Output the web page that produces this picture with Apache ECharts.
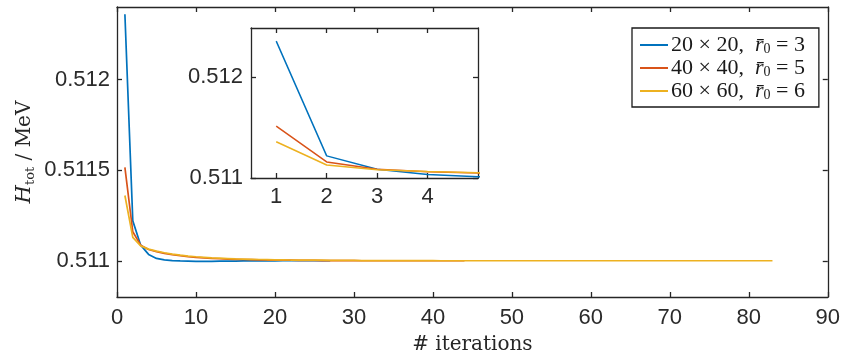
<!DOCTYPE html>
<html>
<head>
<meta charset="utf-8">
<script src="https://cdn.jsdelivr.net/npm/echarts@6/dist/echarts.min.js"></script>
<style>
  html, body { margin: 0; padding: 0; background: #fff; }
  #chart { width: 843px; height: 360px; }
</style>
</head>
<body>
<div id="chart"></div>
<script>
// Total energy H_tot (MeV) per iteration for three lattice set-ups
const gridSizes = ['20 × 20', '40 × 40', '60 × 60'];
const radii = [3, 5, 6];
const colors = ['#0072BD', '#D95319', '#EDB120'];

const energy20 = [
  0.512360, 0.511220, 0.511086, 0.511035, 0.511013, 0.511005, 0.511001, 0.510999, 0.510998, 0.510997,
  0.510997, 0.510997, 0.510998, 0.510998, 0.510998, 0.510999, 0.510999, 0.510999, 0.510999, 0.510999,
  0.511000, 0.511000, 0.511000, 0.511000, 0.511000, 0.511000, 0.511000
];
const energy40 = [
  0.511515, 0.511160, 0.511086, 0.511062, 0.511050, 0.511041, 0.511034, 0.511028, 0.511023, 0.511019,
  0.511016, 0.511013, 0.511011, 0.511009, 0.511008, 0.511007, 0.511006, 0.511005, 0.511004, 0.511004,
  0.511003, 0.511003, 0.511002, 0.511002, 0.511002, 0.511001, 0.511001, 0.511001, 0.511001, 0.511001,
  0.511000, 0.511000, 0.511000, 0.511000, 0.511000, 0.511000, 0.511000, 0.511000, 0.511000, 0.511000,
  0.511000, 0.511000, 0.511000, 0.511000
];
const energy60 = [
  0.511360, 0.511129, 0.511082, 0.511064, 0.511053, 0.511044, 0.511037, 0.511031, 0.511026, 0.511022,
  0.511019, 0.511016, 0.511014, 0.511012, 0.511010, 0.511009, 0.511008, 0.511007, 0.511006, 0.511005,
  0.511005, 0.511004, 0.511004, 0.511003, 0.511003, 0.511003, 0.511002, 0.511002, 0.511002, 0.511002,
  0.511001, 0.511001, 0.511001, 0.511001, 0.511001, 0.511001, 0.511001, 0.511001, 0.511001, 0.511001,
  0.511000, 0.511000, 0.511000, 0.511000, 0.511000, 0.511000, 0.511000, 0.511000, 0.511000, 0.511000,
  0.511000, 0.511000, 0.511000, 0.511000, 0.511000, 0.511000, 0.511000, 0.511000, 0.511000, 0.511000,
  0.511000, 0.511000, 0.511000, 0.511000, 0.511000, 0.511000, 0.511000, 0.511000, 0.511000, 0.511000,
  0.511000, 0.511000, 0.511000, 0.511000, 0.511000, 0.511000, 0.511000, 0.511000, 0.511000, 0.511000,
  0.511000, 0.511000, 0.511000
];
const energies = [energy20, energy40, energy60];

const mainYTicks = [0.511, 0.5115, 0.512];
const mainXTicks = [0, 10, 20, 30, 40, 50, 60, 70, 80, 90];
const insetXTicks = [1, 2, 3, 4];
const insetYTicks = [0.511, 0.512];

const AXIS = '#262626';
const LABEL_FONT = 'Liberation Sans';
const SERIF = 'DejaVu Serif';
const fmt = v => String(+(+v).toFixed(4));

const seriesNames = gridSizes.map((g, i) => g + ', r' + radii[i]);
const toPairs = arr => arr.map((v, i) => [i + 1, v]);

function axisCommon(showLabels, ticks, margin) {
  return {
    axisLine: { show: true, onZero: false, lineStyle: { color: AXIS, width: 1.3 } },
    axisTick: { show: true, inside: true, length: 5, customValues: ticks, lineStyle: { color: AXIS, width: 1.3 } },
    axisLabel: {
      show: showLabels, customValues: ticks, margin: margin, formatter: fmt,
      color: '#2b2b2b', fontFamily: LABEL_FONT, fontSize: 22
    },
    splitLine: { show: false }
  };
}

const series = [];
energies.forEach((arr, i) => {
  series.push({
    name: seriesNames[i], type: 'line', xAxisIndex: 0, yAxisIndex: 0,
    data: toPairs(arr), showSymbol: false, clip: true, z: 2 + i,
    lineStyle: { color: colors[i], width: 1.7 }, itemStyle: { color: colors[i] }
  });
});
energies.forEach((arr, i) => {
  series.push({
    name: seriesNames[i], type: 'line', xAxisIndex: 2, yAxisIndex: 2,
    data: toPairs(arr), showSymbol: false, clip: true, z: 12 + i,
    lineStyle: { color: colors[i], width: 1.5 }, itemStyle: { color: colors[i] }
  });
});

const chart = echarts.init(document.getElementById('chart'), null, { renderer: 'canvas' });
chart.setOption({
  animation: false,
  backgroundColor: '#fff',
  grid: [
    { left: 117, right: 14, top: 7, bottom: 61, containLabel: false },
    { left: 251, top: 28, width: 227, height: 150, show: true, backgroundColor: '#fff', borderWidth: 0, z: 10 }
  ],
  xAxis: [
    Object.assign({ type: 'value', gridIndex: 0, position: 'bottom', min: 0, max: 90,
      name: '# iterations', nameLocation: 'middle', nameGap: 38, nameMoveOverlap: false,
      nameTextStyle: { fontFamily: SERIF, fontSize: 20, color: AXIS } }, axisCommon(true, mainXTicks, 10)),
    Object.assign({ type: 'value', gridIndex: 0, position: 'top', min: 0, max: 90 }, axisCommon(false, mainXTicks, 8)),
    Object.assign({ type: 'value', gridIndex: 1, position: 'bottom', min: 0.5, max: 5, z: 11 }, axisCommon(true, insetXTicks, 8)),
    Object.assign({ type: 'value', gridIndex: 1, position: 'top', min: 0.5, max: 5, z: 11 }, axisCommon(false, insetXTicks, 8))
  ],
  yAxis: [
    Object.assign({ type: 'value', gridIndex: 0, position: 'left', min: 0.5108, max: 0.5124,
      name: '{i|H}{s|tot}{n| / MeV}', nameLocation: 'middle', nameGap: 78, nameRotate: 90, nameMoveOverlap: false,
      nameTextStyle: {
        color: AXIS,
        rich: {
          i: { fontFamily: SERIF, fontStyle: 'italic', fontSize: 21, color: AXIS, lineHeight: 28, verticalAlign: 'middle' },
          s: { fontFamily: SERIF, fontSize: 13, color: AXIS, lineHeight: 28, verticalAlign: 'bottom', padding: [0, 0, 2, 0] },
          n: { fontFamily: SERIF, fontSize: 20, color: AXIS, lineHeight: 28, verticalAlign: 'middle' }
        }
      } }, axisCommon(true, mainYTicks, 7)),
    Object.assign({ type: 'value', gridIndex: 0, position: 'right', min: 0.5108, max: 0.5124 }, axisCommon(false, mainYTicks, 6)),
    Object.assign({ type: 'value', gridIndex: 1, position: 'left', min: 0.511, max: 0.51249, z: 11 }, axisCommon(true, insetYTicks, 8)),
    Object.assign({ type: 'value', gridIndex: 1, position: 'right', min: 0.511, max: 0.51249, z: 11 }, axisCommon(false, insetYTicks, 8))
  ],
  legend: {
    data: seriesNames,
    orient: 'vertical',
    left: 632, top: 28,
    padding: [6, 14, 5, 8],
    itemGap: 1,
    itemWidth: 28, itemHeight: 2,
    icon: 'rect',
    backgroundColor: '#fff',
    borderColor: '#1a1a1a', borderWidth: 1.3,
    selectedMode: false,
    formatter: name => {
      const i = seriesNames.indexOf(name);
      return '{n|' + gridSizes[i] + ',  }{r|r\u0304}{s|0}{n| = ' + radii[i] + '}';
    },
    textStyle: {
      padding: [0, 0, 0, -2],
      rich: {
        n: { fontFamily: 'Liberation Serif', fontSize: 22, color: '#1a1a1a', lineHeight: 22, verticalAlign: 'middle' },
        r: { fontFamily: 'Liberation Serif', fontStyle: 'italic', fontSize: 22, color: '#1a1a1a', lineHeight: 22, verticalAlign: 'middle' },
        s: { fontFamily: 'Liberation Serif', fontSize: 14, color: '#1a1a1a', lineHeight: 22, verticalAlign: 'bottom' }
      }
    }
  },
  series: series
});
</script>
</body>
</html>
